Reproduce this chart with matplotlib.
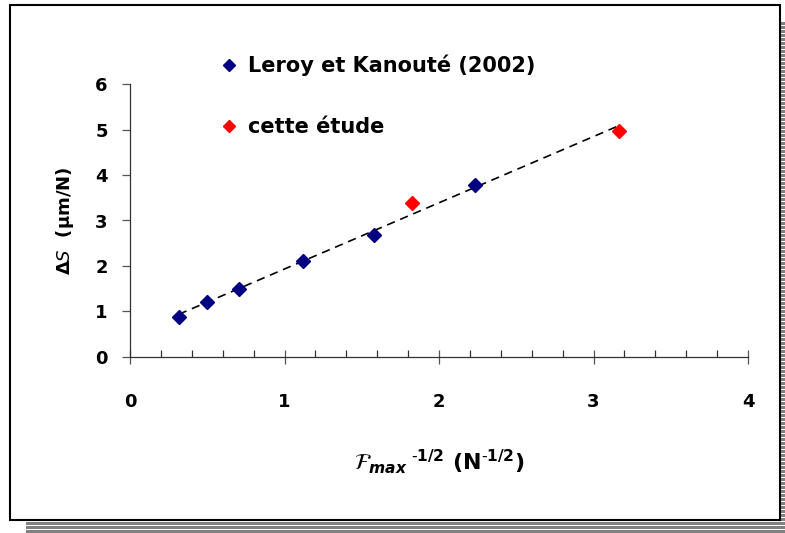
import numpy as np
import matplotlib
matplotlib.use("Agg")
import matplotlib.pyplot as plt
import matplotlib.ticker as ticker
from matplotlib.patches import Rectangle

# F_max^-1/2 (N^-1/2) and Delta S (um/N)
x_leroy = [0.316, 0.500, 0.707, 1.118, 1.581, 2.236]
y_leroy = [0.87, 1.20, 1.49, 2.11, 2.68, 3.78]
x_etude = [1.826, 3.162]
y_etude = [3.38, 4.97]

label_leroy = "Leroy et Kanouté (2002)"
label_etude = "cette étude"

W, H = 785, 533


def px_rect(x0, y0, x1, y1):
    """pixel box (top-left origin) -> figure fraction rect"""
    return (x0 / W, 1 - y1 / H, (x1 - x0) / W, (y1 - y0) / H)


def add_box(fig, box, aa=False, **kw):
    x, y, w, h = px_rect(*box)
    fig.patches.append(Rectangle((x, y), w, h, transform=fig.transFigure,
                                 antialiased=aa, **kw))


def main():
    fig = plt.figure(figsize=(W / 100, H / 100), dpi=100)
    fig.patch.set_facecolor("white")

    # striped drop shadow and outer frame
    for box in [(781, 22, 785, 533), (26, 522, 785, 533)]:
        add_box(fig, box, facecolor="#808080", edgecolor="none", zorder=-3)
    for row in range(25, 533, 4):
        add_box(fig, (781, row, 785, row + 1), facecolor="white",
                edgecolor="none", zorder=-2)
    for row in range(525, 533, 4):
        add_box(fig, (26, row, 785, row + 1), facecolor="white",
                edgecolor="none", zorder=-2)
    add_box(fig, (10, 5, 780, 520), aa=True, facecolor="white",
            edgecolor="black", linewidth=1.5, zorder=-1)

    ax = fig.add_axes([130 / W, 1 - 356.7 / H, 618 / W, 272.4 / H])
    ax.set_facecolor("none")
    ax.set_xlim(0, 4)
    ax.set_ylim(0, 6)

    # trend line through all points
    x_all = np.array(x_leroy + x_etude)
    y_all = np.array(y_leroy + y_etude)
    slope, icpt = np.polyfit(x_all, y_all, 1)
    xs = np.array([x_all.min(), x_all.max()])
    ax.plot(xs, slope * xs + icpt, color="black", linestyle=(0, (5, 3.5)),
            linewidth=1.2, zorder=2)

    ax.plot(x_leroy, y_leroy, linestyle="none", marker="D", markersize=7.5,
            color="#000080", label=label_leroy, zorder=3)
    ax.plot(x_etude, y_etude, linestyle="none", marker="D", markersize=7.5,
            color="#ff0000", label=label_etude, zorder=3)

    for side in ["top", "right"]:
        ax.spines[side].set_visible(False)
    for side in ["left", "bottom"]:
        ax.spines[side].set_color("#333333")
        ax.spines[side].set_linewidth(0.9)

    ax.xaxis.set_major_locator(ticker.MultipleLocator(1))
    ax.xaxis.set_minor_locator(ticker.MultipleLocator(0.2))
    ax.yaxis.set_major_locator(ticker.MultipleLocator(1))
    ax.tick_params(axis="x", which="major", direction="inout", length=10,
                   width=0.9, color="#555555", pad=21, labelsize=13)
    ax.tick_params(axis="x", which="minor", direction="in", length=5,
                   width=0.9, color="#333333")
    ax.tick_params(axis="y", which="major", direction="out", length=6,
                   width=0.9, color="#555555", pad=10, labelsize=13)
    for lab in ax.get_xticklabels() + ax.get_yticklabels():
        lab.set_fontweight("bold")

    ax.set_ylabel(r"Δ$\mathit{S}$  (μm/N)", fontsize=13, fontweight="bold",
                  labelpad=14)
    ax.set_xlabel(r"${\mathcal{F}_{\mathbfit{max}}}^{\ \mathbf{\text{-}1/2}}$ "
                  r"(N$^{\mathbf{\text{-}1/2}}$)",
                  fontsize=16, fontweight="bold", labelpad=26)

    ax.legend(loc="upper left", bbox_to_anchor=(223 / W, 1 - 55 / H),
              bbox_transform=fig.transFigure, frameon=False,
              handlelength=0.6, handletextpad=0.6, labelspacing=1.95,
              borderpad=0, borderaxespad=0, markerscale=0.85,
              prop={"size": 15, "weight": "bold"})

    fig.savefig("out.png", dpi=100)


if __name__ == "__main__":
    main()
